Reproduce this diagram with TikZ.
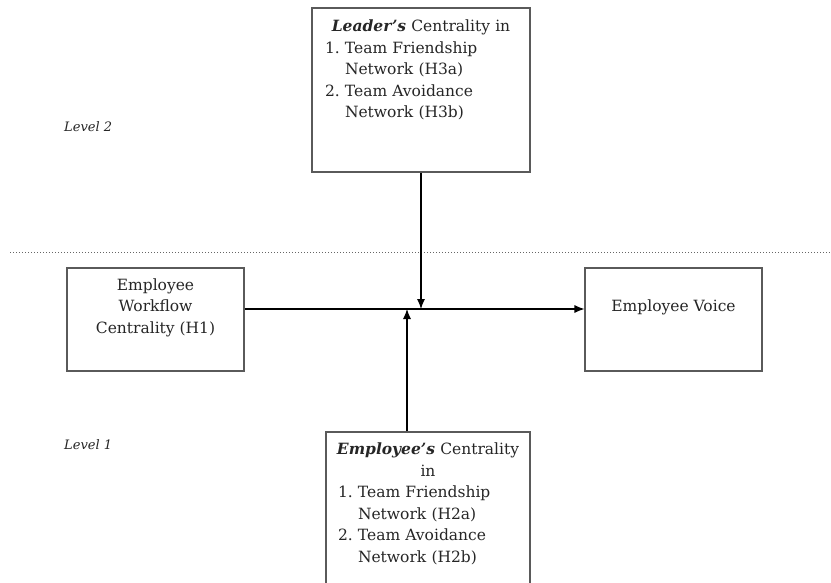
\documentclass[tikz,border=0pt]{standalone}
\usepackage{fontspec}
\setmainfont{DejaVu Serif}
\usetikzlibrary{arrows.meta}
\definecolor{boxgray}{HTML}{5A5A5A}
\definecolor{inkgray}{HTML}{262626}
\tikzset{box/.style = {draw = boxgray, line width = 1.1pt, inner sep = 0}}
\tikzset{txt/.style = {inner sep = 0, text = inkgray, font = \fontsize{15.5}{21.5}\selectfont}}
\tikzset{lvl/.style = {inner sep = 0, text = inkgray, font = \fontsize{13}{16}\selectfont\itshape}}
\tikzset{arr/.style = {line width = 1.1pt, -{Latex[length = 10pt, width = 8pt]}}}

\begin{document}
\begin{tikzpicture}[x = 1pt, y = -1pt]
    \useasboundingbox [fill = white] (0, 0) rectangle (831, 583);
    \clip (0, 0) rectangle (831, 583);

    \draw [gray!80!black, dotted, line width = 1pt] (10, 253) -- (831, 253);

    \node [lvl, anchor = west] (lvltwo) at (64, 127) {Level 2};
    \node [lvl, anchor = west] (lvlone) at (64, 445) {Level 1};

    \node [box, minimum width = 218, minimum height = 164] (lead) at (421, 90) {};
    \node [box, minimum width = 177, minimum height = 103] (wflow) at (155.5, 319.5) {};
    \node [box, minimum width = 177, minimum height = 103] (voice) at (673.5, 319.5) {};
    \node [box, minimum width = 204, minimum height = 168] (empl) at (428, 516) {};

    \node [txt, text width = 192, align = left, anchor = north] (leadtxt) at ([yshift = -12.5pt]lead.north)
      {\makebox[\linewidth]{\textbf{\textit{Leader's}} Centrality in}\\
       \makebox[20pt][l]{1.}Team Friendship\\
       \hspace*{20pt}Network (H3a)\\
       \makebox[20pt][l]{2.}Team Avoidance\\
       \hspace*{20pt}Network (H3b)};

    \node [txt, text width = 180, align = left, anchor = north] (empltxt) at ([yshift = -11.5pt]empl.north)
      {\makebox[\linewidth]{\textbf{\textit{Employee's}} Centrality}\\
       \makebox[\linewidth]{in}\\
       \makebox[20pt][l]{1.}Team Friendship\\
       \hspace*{20pt}Network (H2a)\\
       \makebox[20pt][l]{2.}Team Avoidance\\
       \hspace*{20pt}Network (H2b)};

    \node [txt, align = center, anchor = north] (wflowtxt) at ([yshift = -11pt]wflow.north)
      {Employee\\Workflow\\Centrality (H1)};
    \node [txt, anchor = base] (voicetxt) at ([yshift = -44pt]voice.north) {Employee Voice};

    \coordinate (hit) at (421, 309);
    \draw [arr] ([yshift = 10.5pt]wflow.east) -- ([yshift = 10.5pt]voice.west);
    \draw [arr] (lead.south) -- (hit);
    \draw [arr] ([xshift = -21pt]empl.north) -- ([xshift = -14pt]hit);
  \end{tikzpicture}
\end{document}
